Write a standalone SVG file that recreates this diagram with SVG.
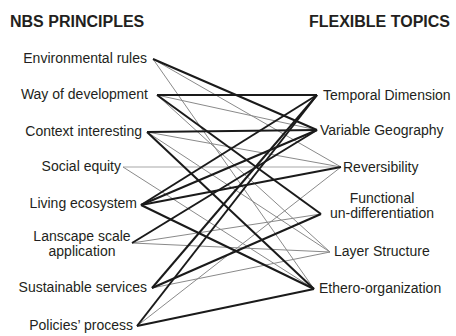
<svg xmlns="http://www.w3.org/2000/svg" width="456" height="336" viewBox="0 0 456 336">
<style>
text{font-family:"Liberation Sans",Arial,sans-serif;font-size:14px;fill:#231f20}
.h{font-weight:bold;font-size:16px}
.l{text-anchor:end}
.m{text-anchor:middle}
.k{stroke:#1a1a1a;stroke-width:2;fill:none}
.t{stroke:#8a8a8a;stroke-width:1;fill:none}
.g{stroke:#c4c4c4;stroke-width:1.5;fill:none}
</style>
<rect width="456" height="336" fill="#fff"/>
<g id="headers">
<text class="h" x="10" y="27">NBS PRINCIPLES</text>
<text class="h" x="450" y="27" text-anchor="end">FLEXIBLE TOPICS</text>
</g>
<g id="connectors">
<line class="g" x1="123" y1="167" x2="341" y2="167"/>
<line class="t" x1="153" y1="59" x2="341" y2="167"/>
<line class="t" x1="153" y1="59" x2="314" y2="289"/>
<line class="t" x1="157" y1="95" x2="317" y2="130"/>
<line class="t" x1="157" y1="95" x2="330" y2="252"/>
<line class="t" x1="147" y1="132" x2="341" y2="167"/>
<line class="t" x1="147" y1="132" x2="330" y2="252"/>
<line class="t" x1="123" y1="167" x2="314" y2="289"/>
<line class="t" x1="132" y1="243" x2="321" y2="214"/>
<line class="t" x1="132" y1="243" x2="330" y2="252"/>
<line class="t" x1="152" y1="288" x2="330" y2="252"/>
<line class="t" x1="137" y1="326" x2="341" y2="167"/>
<line class="k" x1="153" y1="59" x2="317" y2="130"/>
<line class="k" x1="157" y1="95" x2="317" y2="95"/>
<line class="k" x1="157" y1="95" x2="321" y2="214"/>
<line class="k" x1="147" y1="132" x2="317" y2="130"/>
<line class="k" x1="147" y1="132" x2="314" y2="289"/>
<line class="k" x1="141" y1="205" x2="317" y2="95"/>
<line class="k" x1="141" y1="205" x2="317" y2="130"/>
<line class="k" x1="141" y1="205" x2="341" y2="167"/>
<line class="k" x1="141" y1="205" x2="314" y2="289"/>
<line class="k" x1="132" y1="243" x2="317" y2="130"/>
<line class="k" x1="152" y1="288" x2="317" y2="95"/>
<line class="k" x1="152" y1="288" x2="321" y2="214"/>
<line class="k" x1="137" y1="326" x2="317" y2="95"/>
<line class="k" x1="137" y1="326" x2="314" y2="289"/>
</g>
<g id="n-env"><text class="l" x="147" y="63">Environmental rules</text></g>
<g id="n-way"><text class="l" x="148" y="99">Way of development</text></g>
<g id="n-ctx"><text class="l" x="142" y="136">Context interesting</text></g>
<g id="n-soc"><text class="l" x="121" y="171">Social equity</text></g>
<g id="n-liv"><text class="l" x="137" y="208">Living ecosystem</text></g>
<g id="n-lan"><text class="m" x="82" y="241">Lanscape scale</text><text class="m" x="82" y="256">application</text></g>
<g id="n-sus"><text class="l" x="147" y="292">Sustainable services</text></g>
<g id="n-pol"><text class="l" x="133" y="330">Policies’ process</text></g>
<g id="n-tem"><text x="323" y="100">Temporal Dimension</text></g>
<g id="n-var"><text x="320" y="135">Variable Geography</text></g>
<g id="n-rev"><text x="343" y="172">Reversibility</text></g>
<g id="n-fun"><text class="m" x="382" y="203">Functional</text><text class="m" x="382" y="218">un-differentiation</text></g>
<g id="n-lay"><text x="334" y="256">Layer Structure</text></g>
<g id="n-eth"><text x="319" y="293">Ethero-organization</text></g>
</svg>
